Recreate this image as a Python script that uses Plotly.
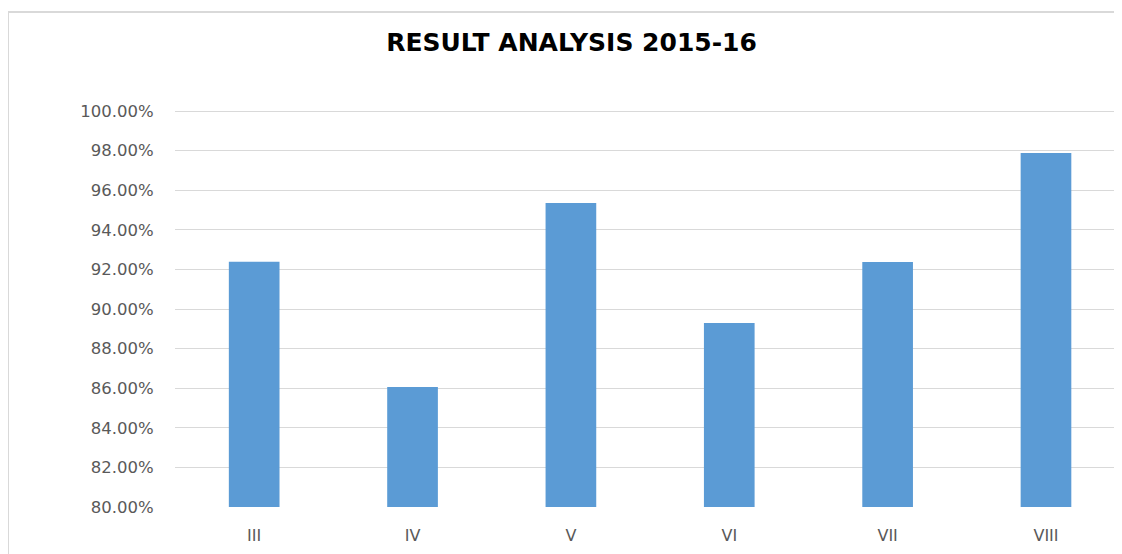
import plotly.graph_objects as go

categories = ["III", "IV", "V", "VI", "VII", "VIII"]
pass_rates = [0.9239, 0.8606, 0.9535, 0.8929, 0.9238, 0.9788]
y_ticks = [0.80, 0.82, 0.84, 0.86, 0.88, 0.90, 0.92, 0.94, 0.96, 0.98, 1.00]
title_text = "RESULT ANALYSIS 2015-16"

# The page body has an 8px margin, so work in page pixels minus 8.
OFF = 8
W, H = 1122 - OFF, 554 - OFF
L, R, T, B = 175 - OFF, 0, 111 - OFF, 554 - 507
pw, ph = W - L - R, H - T - B

def px_to_paper_x(p):
    return (p - OFF - L) / pw

def px_to_paper_y(p):
    return (H - B - (p - OFF)) / ph

y_min, y_max = min(y_ticks), max(y_ticks)
half_px = 0.5 * (y_max - y_min) / ph  # keep top gridline crisp

fig = go.Figure(
    go.Bar(
        x=categories,
        y=pass_rates,
        marker=dict(color="#5b9bd5", line=dict(width=0)),
        width=0.32,
        hoverinfo="x+y",
    )
)

shapes = [
    # top gridline (at the range edge, which plotly omits)
    dict(
        type="line", xref="paper", yref="y",
        x0=0, x1=1, y0=y_max - half_px, y1=y_max - half_px,
        line=dict(color="#d9d9d9", width=1), layer="below",
    ),
    # chart frame (left and top edges)
    dict(
        type="line", xref="paper", yref="paper",
        x0=px_to_paper_x(8), x1=px_to_paper_x(8),
        y0=px_to_paper_y(560), y1=px_to_paper_y(12),
        line=dict(color="#d9d9d9", width=2),
    ),
    dict(
        type="line", xref="paper", yref="paper",
        x0=px_to_paper_x(8), x1=px_to_paper_x(1130),
        y0=px_to_paper_y(12), y1=px_to_paper_y(12),
        line=dict(color="#d9d9d9", width=2),
    ),
]

fig.update_layout(
    width=W,
    height=H,
    autosize=False,
    margin=dict(l=L, r=R, t=T, b=B, pad=0),
    paper_bgcolor="white",
    plot_bgcolor="white",
    showlegend=False,
    title=dict(
        text="<b>" + title_text + "</b>",
        font=dict(family="DejaVu Sans", size=25, color="#000000"),
        x=(571.5 - OFF) / W,
        xref="container",
        xanchor="center",
        y=1 - (42 - OFF) / H,
        yref="container",
        yanchor="middle",
    ),
    xaxis=dict(
        range=[-0.5, 5.48],
        showgrid=False,
        showline=False,
        zeroline=False,
        ticks="outside",
        ticklen=14,
        tickcolor="rgba(0,0,0,0)",
        tickfont=dict(family="DejaVu Sans", size=16, color="#595959"),
    ),
    yaxis=dict(
        range=[y_min, y_max],
        tickvals=y_ticks,
        tickformat=".2%",
        showgrid=True,
        gridcolor="#d9d9d9",
        gridwidth=1,
        showline=False,
        zeroline=False,
        ticks="outside",
        ticklen=17,
        tickcolor="rgba(0,0,0,0)",
        tickfont=dict(family="DejaVu Sans", size=16.5, color="#595959"),
    ),
    shapes=shapes,
)

fig.write_html("out.html")
